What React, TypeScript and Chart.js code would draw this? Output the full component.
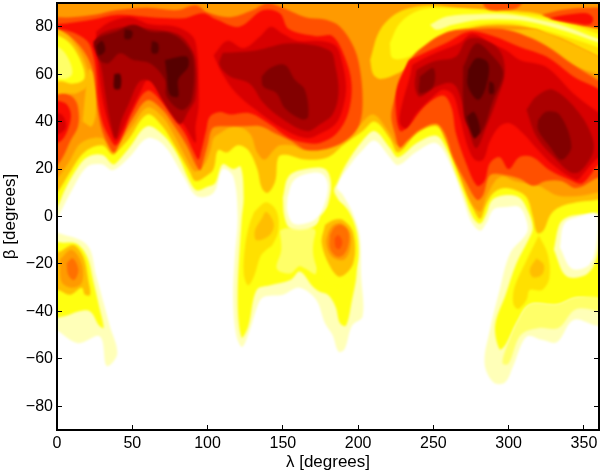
import React, { useEffect, useRef } from "react";
import { Chart, registerables } from "chart.js";

Chart.register(...registerables);

type P = [number, number];

const xTicks = [0, 50, 100, 150, 200, 250, 300, 350];
const yTicks = [-80, -60, -40, -20, 0, 20, 40, 60, 80];

// contour outlines as [lambda, beta]
const north1: P[] = [[-5,95],[-5,-2],[0,0],[2,1.5],[9,10],[20,21],[30,22],[37,19.5],[48,25],[60,33],[71,30],[84,17],[93,8.5],[104,10],[110,20],[117,17],[120,0],[118,-18],[117,-35],[119,-50],[123,-55],[128,-48],[133,-38],[137,-34],[150,-33],[161,-30],[172,-35],[178,-45],[183,-50],[187,-57],[191,-56],[196,-46],[203,-42],[202,-25],[201,-8],[196,2],[190,9],[186,12.6],[195,22],[203,28],[211,32],[221,25],[226.6,21.7],[239,27.4],[252,30.9],[262,21],[270,7],[275,-2],[281,-6],[285,-3],[290,3],[298,4],[307,4],[312,-2],[312,-7],[301,-15.5],[294,-31],[287.5,-48],[284,-62],[290,-70],[297.5,-70],[303,-63],[312,-50.6],[322,-52],[332,-53],[343,-43.6],[358,-46],[365,-46],[365,95]];
const leftBlob1: P[] = [[-5,-6],[1,-7],[20,-12],[26,-25],[35,-46],[40,-58],[33,-63],[28.5,-50.6],[14,-53.4],[0,-48],[-5,-46]];
const north2: P[] = [[-5,95],[-5,2],[0,4],[5,11],[12,19],[20,25],[30,26],[37,22],[40,23],[48,29],[60,38],[71,34],[80,26],[88,15],[93,11],[100,12.5],[105,14],[110,22],[117,20],[122,21],[124,8],[122.6,-1.5],[120,-35],[122.6,-51],[127,-46.4],[132.6,-31],[141.5,-29],[155,-26.8],[161.3,-23.2],[170,-29.6],[174.6,-31.7],[180,-33],[185,-38],[188,-45],[192,-46],[196,-35],[199,-24],[198,-10],[193,0],[186,8],[184,11],[186,14],[192,22],[203,32],[211,36],[221,29],[226.6,25],[239,31],[252,34],[259,28],[265,18],[270,10],[276,0],[281,-3],[285,1],[289,7],[297,9],[307,8],[313,2],[316,-5],[313,-10],[305,-20],[298,-33],[291,-46],[294,-56],[298,-54],[305,-45],[314,-37],[332,-37],[345,-34],[358,-35],[365,-35],[365,95]];
const leftBlob2: P[] = [[-5,-10],[3,-11],[13,-11.5],[20,-17],[24,-27],[28,-38],[31,-47],[28,-46],[22,-40],[14,-40],[5,-42],[-5,-42]];
const holeAPale: P[] = [[150,8],[154,17],[165,20],[178,20],[182,14],[180,5],[176,-1],[168,-5],[155,-5],[151,0]];
const holeAWhite: P[] = [[153,8],[157,15],[166,18],[176,18],[180,13],[177,4],[172,-1],[165,-3],[157,-3],[153,2]];
const holeBPale: P[] = [[330,-14],[334,-3],[340,0],[350,1],[360,1],[361,-8],[357,-20],[350,-25],[338,-25]];
const holeBWhite: P[] = [[334,-13],[337,-3],[347,0],[358,0.7],[359,-8],[354,-20],[342,-22]];
const midLemon: P[] = [[148,-6],[152,-5],[172,-6],[172,-24],[165,-22],[161,-21],[155,-24],[146,-22],[149,-14]];
const rightLemon: P[] = [[305,-45],[298,-56],[296,-62],[300,-62],[308,-50],[320,-47],[333,-47],[345,-39],[365,-40],[365,-35],[345,-34],[332,-37],[314,-37]];
const plumeGold: P[] = [[131,2],[139,6],[146,2],[147,-6],[143,-12],[139,-14],[135,-17],[131,-25],[127,-29],[124,-24],[125,-12],[128,-3]];
const plumeAmber: P[] = [[136,-0.8],[139,2],[144,-3],[141.4,-7.8],[132.5,-10],[131.4,-6]];
const plumeRightGold: P[] = [[320,-8],[326,-16],[327,-26],[322,-31],[314,-31],[312,-35],[306.3,-39],[303,-36.6],[304,-29.5],[312,-18.3],[318.5,-9.9]];
const plumeRightAmber: P[] = [[318.5,-17.6],[323.4,-20.4],[322,-24.6],[316.3,-25.6],[314,-22.5]];
const leftBlob3: P[] = [[-5,-15],[0.9,-15],[10.8,-12],[17.5,-17],[20.8,-26.8],[22,-33],[18.6,-33],[16.4,-30],[8.6,-33],[0.9,-31],[-5,-31]];
const leftBlob4: P[] = [[2,-18],[9.7,-14],[16.4,-20],[16.4,-28],[9.7,-30],[3,-27.5]];
const leftBlob5: P[] = [[6.4,-19.7],[10.4,-17.6],[14.2,-22.5],[11.3,-26.8],[7.5,-24.7]];
const blobYellow: P[] = [[174.7,0],[170,-14],[174.7,-24],[184.6,-29.6],[198,-22.5],[200,-10],[194.6,1.3],[185.7,6.3]];
const blobAmber: P[] = [[178,-3.6],[175.8,-11.3],[181.3,-21],[188,-25.4],[196.8,-19.7],[196.8,-7],[190,-1.5],[183.5,-1.5]];
const blobOrange: P[] = [[180.2,-6.4],[178.7,-11.3],[182.4,-16.9],[190.2,-18.3],[194.6,-14.1],[194.6,-7.1],[189,-2.9],[183.5,-3.6]];
const blobDeep: P[] = [[181.3,-7.8],[181.3,-13.4],[185.7,-16.9],[190.2,-16.2],[193.5,-12],[193.5,-6.4],[189,-3.6],[184.6,-4.3]];
const blobCore: P[] = [[184.4,-9.2],[186.8,-7.8],[189.5,-10.6],[187.5,-13.8],[184.9,-12.7]];
const north3: P[] = [[-5,95],[-5,8],[0,10],[8,18],[18,27],[30,30],[37,26],[41,28],[48,33],[60,43],[70,38],[78,30],[88,19],[92,15],[99,17],[104,20],[107,28],[113,27],[120,30],[127,28],[133,20],[136,12],[140,10],[145,15],[147,25],[152,26],[165,24],[180,25],[190,30],[203,36],[211,40],[221,33],[226.6,27],[239,35],[252,38],[258,32],[264,23],[270,13],[276,4],[281,-1],[285,5],[290,10],[297,12],[305,11],[312,8],[316,0],[319,-7],[323,-6],[328,1],[334,4],[345,6],[358,7],[365,8],[365,95]];
const north4: P[] = [[-5,95],[-5,14],[0,16],[8,23],[16,31],[30,33],[37,27],[42,31],[50,38],[60,46],[70,42],[78,34],[88,22],[92,19],[98,22],[102,28],[104,33],[108,35],[118,38],[128,35],[133,27],[138,24],[144,28],[148,30],[156,30],[165,28],[178,30],[190,33],[200,38],[210,43],[220,36],[226,30],[232,34],[240,39],[250,42],[256,36],[262,27],[268,17],[275,6],[281,2],[285,8],[291,15],[296,17],[304,15],[312,14],[320,13],[332,9],[345,8.5],[358,10],[365,11],[365,95]];
const leftRed5: P[] = [[-5,18],[3,24],[9,32],[14,38],[14,46],[11,50],[5,52],[-5,52]];
const leftRed6: P[] = [[-5,30],[3,32],[8,38],[9,44],[5,48],[-5,48]];
const leftRed7: P[] = [[-5,35],[2,35],[6,38],[3,43],[-5,43]];
const amberStrip: P[] = [[17,40],[23,38],[26,45],[25,60],[21,62],[19,53]];
const main5: P[] = [[-5,84],[10,84],[25,85],[40,87],[60,88],[80,87],[92,89],[100,86],[115,84],[130,87],[140,90],[150,88],[165,84],[178,83],[188,80],[197,71.6],[201,63],[203,49],[201,39],[194,33],[182,29],[166,28],[155,32],[145,35],[135,38],[125,38],[115,38],[108,38],[103,37],[100,30],[97,23],[95,19.5],[92,22],[86,30],[78,38],[70,45],[60,49],[50,41],[43,33],[38,27],[35,29],[30,36],[27,45],[26,52],[23,63],[17.5,70],[8.6,76],[0,79],[-5,80]];
const main6: P[] = [[-5,82],[0,81],[24,83],[40,85],[62,84],[84,83.6],[97,85.7],[106,83],[121,80],[137,87],[148,85.7],[154,79],[172,76],[183,76],[191,67.4],[195.6,56],[193.4,43.5],[185.7,35],[174.6,31],[166,31],[154.4,33],[141,39],[128,43.5],[115,43],[108,44],[101.5,42],[99,36],[96,28],[94,24],[91,27],[85,35],[78,41],[70,48],[60,53],[50,44],[44,35],[39,30],[35,33],[30,40],[27,50],[26,60],[24,68],[20,74],[9,78],[0,79],[-5,79.5]];
const left7: P[] = [[26,78],[35,82],[48,84],[62,81],[79,80],[90,76],[93,70],[94,58],[94,46],[92,38],[92,31],[85,38],[78,44],[70,51],[61,58],[55,52],[48,43],[43,36],[39,32],[36,36],[32,44],[29,54],[27,66]];
const right7: P[] = [[104,68],[113,74],[124,71],[135,76],[142,80],[150,77],[160,74],[175,74],[185,72],[189,66],[192,55],[190,46],[185,39],[175,35],[166,33],[150,37],[132,45],[119,52],[110,60]];
const left8: P[] = [[24,72],[29,77],[46,80],[62,79],[80,77],[87,73],[92,66],[92,50],[87,44],[82,39],[76,43],[70,49],[62,57],[55,57],[48,48],[43,41],[39,33],[35,41],[32,52],[29,64]];
const right8: P[] = [[110,69],[132,70],[155,73],[181,70],[185,63],[187,52],[183,43],[175,39],[166,36],[150,41],[137,48],[128,56],[115,59],[108,64]];
const left9: P[] = [[24.1,73.7],[28.5,75.8],[39.6,78],[50.7,80.8],[61.7,78],[75,77.3],[83.9,73.7],[90.5,66.7],[89.4,49.2],[82.8,44.9],[72.8,50.6],[71.7,57.6],[61.7,64.6],[50.7,66],[41.8,68.8],[34,64.6],[28.5,66]];
const right9: P[] = [[135.9,59],[141.4,62.5],[151.4,63.9],[158,57.6],[164.6,53.4],[166.9,42.1],[162.4,41],[151.4,45.6],[145.8,52],[137,54.8]];
const left10a: P[] = [[71.7,66],[86,67.4],[87.2,63.2],[80.5,57.6],[80.5,50.6],[75,51.3],[72.8,60.4]];
const left10b: P[] = [[26,72],[30,74],[32,70],[28,68]];
const left10c: P[] = [[45,79],[50,78],[49,75],[45,75]];
const left10d: P[] = [[63,74],[67,73],[67,69],[63,69]];
const left10e: P[] = [[38,60],[42,60],[42,54],[38,54]];
const holeYellowAmber: P[] = [[-5,80],[0,79],[9,75],[18,66],[21,56],[13,52],[5,52],[-5,52]];
const holeYellow: P[] = [[-5,77],[0,76.5],[8.6,73],[16.4,64.6],[18,58],[10,56],[3,57],[-5,57]];
const holeYellowCore: P[] = [[-5,72],[2,71],[8,66],[10,60],[4,58],[-5,60]];
const arcOuter: P[] = [[208,66],[214,78],[224,85],[235,88],[250,89],[265,88],[280,87.5],[295,87],[307,86.5],[320,85.5],[330,83],[345,81],[357,79.5],[365,78],[365,66],[358,68],[345,72],[335,75],[325,77],[318,79],[303,80.5],[285,80.5],[270,78.5],[258,76],[246,70],[236,64],[225,60],[215,58],[210,60]];
const arcMiddle: P[] = [[221,73],[227.8,81.5],[241,87],[258.8,87.8],[281,87],[303,85.7],[320.7,84.3],[338.4,81.5],[358.3,77.3],[365,76],[365,70],[358.3,71.6],[338.4,75.8],[318.5,79.4],[303,81.5],[278.7,80.8],[258.8,77.2],[243.3,71.6],[234.4,67.4],[223,66.7]];
const arcCore: P[] = [[247.7,80.8],[258.8,84.3],[281,85.4],[303,85],[320.7,82.9],[338.4,80],[358.3,75.1],[365,74],[365,72.5],[358.3,73.7],[338.4,78],[320.7,81.2],[303,82.9],[281,82.9],[263,80.8],[252,78.7]];
const topSpot: P[] = [[281,95],[285,87.8],[298.6,87],[307,88.5],[312,95]];
const cornerOrange: P[] = [[322,85],[335,87],[350,88],[365,87],[365,80],[356,79.7],[345,81],[330,83]];
const cornerRed: P[] = [[327,83.6],[338.4,85],[351.7,85.7],[356,83.6],[354,81],[345,81.5],[334,82.6]];
const domeAmber: P[] = [[318,79],[338,74],[358,68],[365,66],[365,60],[345,63],[330,68],[315,74],[300,77.5],[285,79],[270,78]];
const dome5: P[] = [[233,65],[240,70],[258,77.5],[276,79],[296,79],[312,76],[325,72],[343,64],[358,58],[365,55],[365,18],[358,16],[345,12],[335,15],[325,15],[316,13],[307,16],[292,18],[287,17],[283,9],[279,7],[272,14],[263,25],[257.6,35],[252,39],[241,36.5],[233,32],[227.7,29],[224.4,35],[222,42],[224,49]];
const dome6: P[] = [[234,66],[258,73],[274,78],[290,76],[307,71.6],[325,67.4],[343,59],[365,50],[365,23],[360,22],[349,14],[341,15.4],[327,19.6],[316,25],[307,25],[300,20],[294,25],[287.5,22.4],[284,15],[279,13],[272,22],[265,35],[262,46],[256.5,51],[245,47],[234,38.6],[228,36],[225,45],[226,55]];
const dome7: P[] = [[236,64],[248,68],[267,73],[276,77],[288,73],[298.5,70],[307.4,66],[325,63],[342.8,52],[360.5,43.5],[365,42],[365,27],[358,24],[349,17.5],[345,15.4],[329.5,21.7],[318.4,28.8],[309.6,35],[300.7,39.3],[294,38],[287.5,31.6],[283,23.9],[277.5,23.9],[272,30.9],[267.5,42],[263,51.3],[256.5,53.4],[250,50.6],[238.8,43.5],[232,37.2],[227.7,39.3],[228.8,46.3],[234.4,59]];
const dome8a: P[] = [[238.8,61.8],[250,65.3],[265,67.4],[272,74.4],[281,75],[294,70],[297.4,60.4],[292,49],[285.3,38],[278.6,28.8],[274,35],[268.7,49],[263,56],[252,54.8],[241,50.5],[237.7,54.8]];
const dome8b: P[] = [[311.8,45],[318.4,50.6],[329.5,53.4],[347,43.5],[356,32.3],[355,25.3],[344,18.2],[329.5,25.3],[318.4,33.7]];
const dome9a: P[] = [[269.8,63.2],[278.6,73],[289.7,67.4],[296.3,60.4],[289.7,49],[280.8,35],[272,39.3],[269.8,49]];
const dome9b: P[] = [[319.5,40.7],[325,44.2],[334,42.8],[341.7,29.5],[335,23.9],[327.3,29.5],[319.5,36.5]];
const dome9c: P[] = [[241,59],[250,62.5],[250,55],[241,52]];
const dome10a: P[] = [[273,61.8],[278.6,66.7],[286.4,64.6],[285,54.8],[279.7,49.2],[273,54.8]];
const dome10b: P[] = [[287,57],[290,56],[290,52],[287,52]];
const dome10c: P[] = [[272,42],[277,44],[281,36],[277,33]];

const cPale = "#ffffb8", cYellow = "#ffff10", cGold = "#ffe000", cAmber = "#ffbe00", cOrange = "#ff9a00", cDeep = "#ff7000", cBurnt = "#ff5000", cRed = "#fa0c00", cCrimson = "#d80000", cDark = "#ab0000", cMaroon = "#820000", cBlack = "#560000";
const cWhite = "#ffffff", cLemon = "#ffff68", cCream = "#ffff98";

const layers: [P[], string][] = [
  [north1, cPale], [leftBlob1, cPale], [north2, cYellow], [leftBlob2, cYellow],
  [midLemon, cLemon], [rightLemon, cLemon],
  [holeAPale, cPale], [holeAWhite, cWhite], [holeBPale, cPale], [holeBWhite, cWhite],
  [plumeGold, cGold], [plumeAmber, cAmber], [plumeRightGold, cGold], [plumeRightAmber, cAmber],
  [leftBlob3, cAmber], [leftBlob4, cOrange], [leftBlob5, cDeep],
  [blobYellow, cYellow], [blobAmber, cAmber], [blobOrange, cOrange], [blobDeep, cDeep], [blobCore, cBurnt],
  [north3, cAmber], [north4, cOrange], [leftRed5, cBurnt], [leftRed6, cRed], [leftRed7, cCrimson], [amberStrip, cAmber],
  [main5, cBurnt], [main6, cRed], [left7, cCrimson], [right7, cCrimson], [left8, cDark], [right8, cDark],
  [left9, cMaroon], [right9, cMaroon], [left10a, cBlack], [left10b, cBlack], [left10c, cBlack], [left10d, cBlack], [left10e, cBlack],
  [holeYellowAmber, cAmber], [holeYellow, cYellow], [holeYellowCore, cLemon],
  [arcOuter, cGold], [arcMiddle, cYellow], [arcCore, cCream], [topSpot, cBurnt], [cornerOrange, cBurnt], [cornerRed, cRed],
  [domeAmber, cAmber], [dome5, cBurnt], [dome6, cRed], [dome7, cCrimson], [dome8a, cDark], [dome8b, cDark],
  [dome9a, cMaroon], [dome9b, cMaroon], [dome9c, cMaroon], [dome10a, cBlack], [dome10b, cBlack], [dome10c, cBlack],
];

const FONT = "'Liberation Sans', Arial, sans-serif";

const soften = {
  id: "soften",
  beforeDatasetsDraw(chart: any) { chart.ctx.save(); chart.ctx.filter = "blur(1.3px)"; },
  afterDatasetsDraw(chart: any) { chart.ctx.restore(); },
};

export default function App() {
  const ref = useRef<HTMLCanvasElement | null>(null);
  useEffect(() => {
    if (!ref.current) return;
    const pin = (list: number[]) => (s: any) => { s.ticks = list.map((value) => ({ value })); };
    const label = (v: any) => String(v).replace("-", "\u2212");
    const fit = (prop: "width" | "height", size: number) => (s: any) => {
      s[prop] = size;
      s.paddingTop = 0; s.paddingBottom = 0; s.paddingLeft = 0; s.paddingRight = 0;
    };
    const shared = { grid: { drawOnChartArea: false, drawTicks: true, tickLength: -5, tickWidth: 1, tickColor: "#000", z: 1 }, border: { color: "#000", width: 2, z: 1 } };
    const chart = new Chart(ref.current, {
      type: "scatter",
      plugins: [soften],
      data: {
        // Chart.js paints the first dataset last, so the outline order is reversed
        datasets: [...layers].reverse().map(([pts, color]) => ({
          data: [...pts, pts[0]].map(([x, y]) => ({ x, y })),
          showLine: true, fill: "shape", backgroundColor: color, borderWidth: 0, borderColor: color,
          pointRadius: 0, tension: 0.35,
        })),
      } as any,
      options: {
        responsive: false, animation: false, events: [],
        layout: { padding: { top: 3, right: 1, left: 0, bottom: 0 } },
        plugins: { legend: { display: false }, tooltip: { enabled: false } },
        scales: {
          x: { type: "linear", position: "bottom", min: 0, max: 360, afterBuildTicks: pin(xTicks), afterFit: fit("height", 43),
            ticks: { color: "#000", font: { family: FONT, size: 16 }, padding: 9, maxRotation: 0, autoSkip: false, callback: label, z: 1 },
            title: { display: true, text: "\u03bb [degrees]", color: "#000", font: { family: FONT, size: 17 }, padding: { top: 0, bottom: 0 } }, ...shared },
          y: { type: "linear", position: "left", min: -90, max: 90, afterBuildTicks: pin(yTicks), afterFit: fit("width", 57),
            ticks: { color: "#000", font: { family: FONT, size: 16 }, padding: 9, autoSkip: false, callback: label, z: 1 },
            title: { display: true, text: "\u03b2 [degrees]", color: "#000", font: { family: FONT, size: 17 }, padding: { top: 0, bottom: 0 } }, ...shared },
          x2: { type: "linear", position: "top", min: 0, max: 360, afterBuildTicks: pin(xTicks), afterFit: fit("height", 0), ticks: { display: false, z: 1 }, ...shared },
          y2: { type: "linear", position: "right", min: -90, max: 90, afterBuildTicks: pin(yTicks), afterFit: fit("width", 0), ticks: { display: false, z: 1 }, ...shared },
        },
      } as any,
    });
    return () => chart.destroy();
  }, []);
  return <canvas ref={ref} width={600} height={473} style={{ position: "absolute", left: 0, top: 0, display: "block" }} />;
}
